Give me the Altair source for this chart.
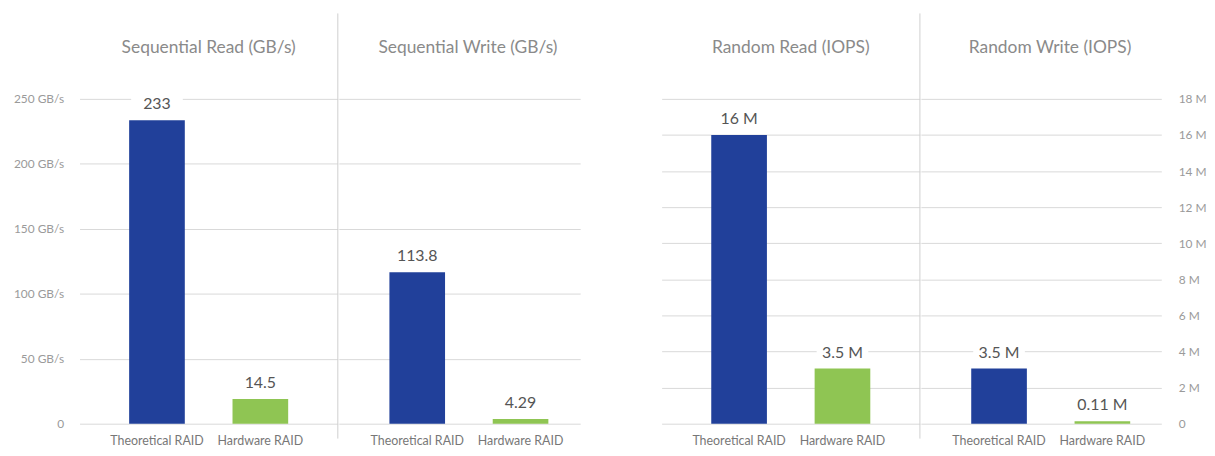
import altair as alt
import pandas as pd

# ---- data ----
panel_titles = ["Sequential Read (GB/s)", "Sequential Write (GB/s)",
                "Random Read (IOPS)", "Random Write (IOPS)"]
raid_types = ["Theoretical RAID", "Hardware RAID"]
seq_read_heights = [233.5, 19.0]
seq_write_heights = [116.5, 3.6]
rand_read_heights = [16.0, 3.06]
rand_write_heights = [3.06, 0.13]
seq_read_labels = ["233", "14.5"]
seq_write_labels = ["113.8", "4.29"]
rand_read_labels = ["16 M", "3.5 M"]
rand_write_labels = ["3.5 M", "0.11 M"]
gbs_ticks = [0, 50, 100, 150, 200, 250]
iops_ticks = [0, 2, 4, 6, 8, 10, 12, 14, 16, 18]

BLUE = "#21409a"
GREEN = "#8fc553"
FONT = "Lato"
GRID = "#d9d9d9"
PLOT_H = 327


def panel(title, heights, labels, width, pad_outer, align, domain, ticks,
          label_expr, show_labels, orient, label_pad, divider_opacity, title_center):
    df = pd.DataFrame({"raid": raid_types, "value": heights, "label": labels})
    x = alt.X("raid:N", sort=raid_types,
              scale=alt.Scale(paddingInner=0.4615, paddingOuter=pad_outer, align=align),
              axis=alt.Axis(title=None, labelAngle=0, domain=False, ticks=False,
                            labelPadding=11, labelFontSize=12.5, labelColor="#777777",
                            labelFont=FONT))
    y = alt.Y("value:Q",
              scale=alt.Scale(domain=domain, nice=False, zero=True),
              axis=alt.Axis(title=None, values=ticks, orient=orient, domain=False,
                            ticks=False, grid=True, gridColor=GRID, gridWidth=1,
                            labels=show_labels, labelExpr=label_expr,
                            labelPadding=label_pad, labelFontSize=12,
                            labelColor="#9a9a9a", labelFont=FONT))
    base = alt.Chart(df)
    box = base.mark_bar(color="white", width=52, yOffset=-26, y2Offset=-3).encode(
        x=x, y=y, y2="value:Q")
    bars = base.mark_bar().encode(
        x=x, y=y,
        color=alt.Color("raid:N", scale=alt.Scale(domain=raid_types, range=[BLUE, GREEN]),
                        legend=None))
    text = base.mark_text(dy=-8, baseline="bottom", fontSize=16, color="#555555",
                          font=FONT).encode(x=x, y=y, text="label:N")
    one = alt.Chart(pd.DataFrame({"t": [title]}))
    divider = one.mark_rule(
        color="#d0d0d0", strokeWidth=1, opacity=divider_opacity).encode(
        x=alt.value(width), y=alt.value(-86), y2=alt.value(342))
    head = one.mark_text(fontSize=17.5, color="#8a8a8a", font=FONT,
                         baseline="middle", align="center").encode(
        text="t:N", x=alt.value(title_center), y=alt.value(-51))
    return alt.layer(box, bars, text, divider, head).properties(
        width=width, height=PLOT_H)


gbs_expr = "datum.value == 0 ? '0' : datum.value + ' GB/s'"
iops_expr = "datum.value == 0 ? '0' : datum.value + ' M'"

p1 = panel(panel_titles[0], seq_read_heights, seq_read_labels, 260, 0.48, 0.5,
           [0, 250], gbs_ticks, gbs_expr, True, "left", 16, 1, 130)
p2 = panel(panel_titles[1], seq_write_heights, seq_write_labels, 243, 0.399, 0.614,
           [0, 250], gbs_ticks, gbs_expr, False, "left", 16, 0, 130)
p3 = panel(panel_titles[2], rand_read_heights, rand_read_labels, 260, 0.48, 0.5,
           [0, 18], iops_ticks, iops_expr, False, "left", 16, 1, 130)
p4 = panel(panel_titles[3], rand_write_heights, rand_write_labels, 242, 0.394, 0.618,
           [0, 18], iops_ticks, iops_expr, True, "right", 17, 0, 130)

left = alt.hconcat(p1, p2, spacing=0)
right = alt.hconcat(p3, p4, spacing=0)

chart = alt.hconcat(left, right, spacing=82).properties(
    padding={"left": 5, "top": 3, "right": 0, "bottom": 0},
    background="white",
).configure_view(stroke=None)

chart.save("out.html", embed_options={"renderer": "svg", "actions": False})
